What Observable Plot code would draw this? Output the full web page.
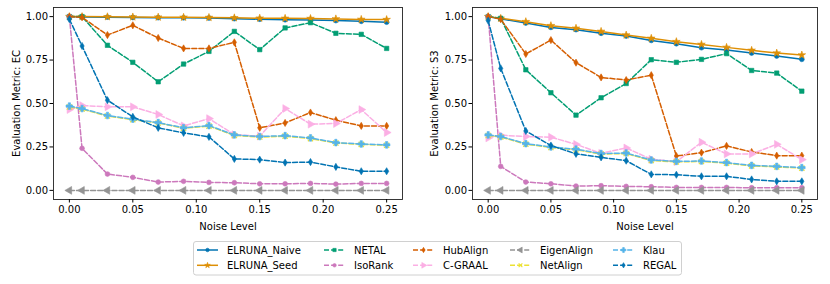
<!DOCTYPE html>
<html>
<head>
<meta charset="utf-8">
<script src="https://cdn.jsdelivr.net/npm/d3@7"></script>
<script src="https://cdn.jsdelivr.net/npm/@observablehq/plot@0.6"></script>
<style>
  body { margin: 0; background: #fff; }
  #wrap { position: relative; width: 830px; height: 284px; font-family: "DejaVu Sans", sans-serif; }
  .panel { position: absolute; top: 0; }
  #legend { position: absolute; left: 0; top: 0; }
</style>
</head>
<body>
<div id="wrap">
  <div id="left" class="panel" style="left:0px"></div>
  <div id="right" class="panel" style="left:415px"></div>
  <div id="legend"></div>
</div>
<script>
// ---------- data ----------
const noise = [0, 0.01, 0.03, 0.05, 0.07, 0.09, 0.11, 0.13, 0.15, 0.17, 0.19, 0.21, 0.23, 0.25];
const xTicks = [0, 0.05, 0.10, 0.15, 0.20, 0.25];
const yTicks = [0, 0.25, 0.5, 0.75, 1.0];
const seriesNames = ["ELRUNA_Naive", "ELRUNA_Seed", "NETAL", "IsoRank", "HubAlign", "C-GRAAL", "EigenAlign", "NetAlign", "Klau", "REGAL"];
const seriesColors = ["#0173b2", "#de8f05", "#029e73", "#cc78bc", "#d55e00", "#fbafe4", "#949494", "#ece133", "#56b4e9", "#0173b2"];

// EC
const ecElrunaNaive = [1.0, 0.998, 0.997, 0.995, 0.994, 0.993, 0.992, 0.988, 0.985, 0.982, 0.980, 0.977, 0.973, 0.968];
const ecElrunaSeed  = [1.0, 1.0, 0.999, 0.998, 0.997, 0.996, 0.995, 0.993, 0.991, 0.990, 0.989, 0.987, 0.984, 0.983];
const ecNetal       = [1.0, 1.0, 0.835, 0.737, 0.625, 0.727, 0.800, 0.915, 0.810, 0.935, 0.965, 0.904, 0.898, 0.817];
const ecIsoRank     = [1.0, 0.242, 0.094, 0.075, 0.048, 0.052, 0.046, 0.044, 0.038, 0.038, 0.040, 0.036, 0.040, 0.040];
const ecHubAlign    = [1.0, 0.996, 0.894, 0.950, 0.877, 0.817, 0.817, 0.852, 0.360, 0.388, 0.448, 0.404, 0.371, 0.371];
const ecCGraal      = [0.465, 0.488, 0.481, 0.481, 0.437, 0.371, 0.413, 0.321, 0.312, 0.471, 0.381, 0.385, 0.465, 0.333];
const ecEigenAlign  = [0, 0, 0, 0, 0, 0, 0, 0, 0, 0, 0, 0, 0, 0];
const ecNetAlign    = [0.480, 0.468, 0.428, 0.407, 0.388, 0.358, 0.370, 0.316, 0.307, 0.312, 0.298, 0.273, 0.265, 0.260];
const ecKlau        = [0.485, 0.471, 0.431, 0.410, 0.390, 0.360, 0.373, 0.319, 0.310, 0.315, 0.302, 0.275, 0.267, 0.262];
const ecRegal       = [0.985, 0.831, 0.519, 0.423, 0.360, 0.331, 0.308, 0.181, 0.177, 0.160, 0.163, 0.135, 0.110, 0.110];

// S3
const s3ElrunaNaive = [1.0, 0.987, 0.963, 0.938, 0.925, 0.904, 0.888, 0.863, 0.844, 0.821, 0.808, 0.790, 0.773, 0.754];
const s3ElrunaSeed  = [1.0, 0.990, 0.971, 0.948, 0.933, 0.915, 0.894, 0.875, 0.856, 0.840, 0.823, 0.806, 0.790, 0.779];
const s3Netal       = [1.0, 0.990, 0.694, 0.562, 0.433, 0.533, 0.615, 0.752, 0.737, 0.754, 0.787, 0.690, 0.675, 0.571];
const s3IsoRank     = [1.0, 0.138, 0.048, 0.038, 0.025, 0.027, 0.023, 0.021, 0.017, 0.017, 0.017, 0.015, 0.015, 0.015];
const s3HubAlign    = [1.0, 0.985, 0.785, 0.865, 0.735, 0.650, 0.635, 0.663, 0.198, 0.217, 0.256, 0.221, 0.200, 0.200];
const s3CGraal      = [0.302, 0.317, 0.310, 0.306, 0.265, 0.213, 0.244, 0.179, 0.165, 0.277, 0.210, 0.210, 0.265, 0.177];
const s3EigenAlign  = [0, 0, 0, 0, 0, 0, 0, 0, 0, 0, 0, 0, 0, 0];
const s3NetAlign    = [0.316, 0.307, 0.266, 0.247, 0.234, 0.209, 0.212, 0.172, 0.164, 0.166, 0.157, 0.141, 0.135, 0.128];
const s3Klau        = [0.319, 0.310, 0.269, 0.250, 0.237, 0.212, 0.215, 0.175, 0.167, 0.169, 0.160, 0.144, 0.138, 0.131];
const s3Regal       = [0.977, 0.702, 0.342, 0.258, 0.210, 0.190, 0.171, 0.092, 0.090, 0.081, 0.081, 0.063, 0.052, 0.052];

const ecValues = [ecElrunaNaive, ecElrunaSeed, ecNetal, ecIsoRank, ecHubAlign, ecCGraal, ecEigenAlign, ecNetAlign, ecKlau, ecRegal];
const s3Values = [s3ElrunaNaive, s3ElrunaSeed, s3Netal, s3IsoRank, s3HubAlign, s3CGraal, s3EigenAlign, s3NetAlign, s3Klau, s3Regal];

// ---------- styles ----------
const thinDiamond = {
  draw(ctx, size) {
    const r = Math.sqrt(size) / 2;
    ctx.moveTo(0, -r * 1.35);
    ctx.lineTo(r * 0.8, 0);
    ctx.lineTo(0, r * 1.35);
    ctx.lineTo(-r * 0.8, 0);
    ctx.closePath();
  }
};
const styles = [
  {symbol: "circle", rotate: 0, fill: true, r: 2.4, dash: false},
  {symbol: "star", rotate: 0, fill: true, r: 2.4, dash: false},
  {symbol: "square", rotate: 0, fill: true, r: 2.5, dash: true},
  {symbol: "circle", rotate: 0, fill: true, r: 2.4, dash: true},
  {symbol: thinDiamond, rotate: 0, fill: true, r: 3.0, dash: true},
  {symbol: "triangle", rotate: 90, fill: true, r: 2.9, dash: true},
  {symbol: "triangle", rotate: -90, fill: true, r: 2.9, dash: true},
  {symbol: "times", rotate: 0, fill: false, r: 2.5, dash: true},
  {symbol: "cross", rotate: 0, fill: true, r: 2.8, dash: true},
  {symbol: thinDiamond, rotate: 0, fill: true, r: 3.0, dash: true}
];

const font = "DejaVu Sans, sans-serif";

function panel(values, ylabel, marginLeft, frameWidth, labelOffset) {
  const marks = [];
  seriesNames.forEach((name, i) => {
    const data = noise.map((x, j) => ({x, y: values[i][j]}));
    const st = styles[i];
    marks.push(Plot.line(data, {
      x: "x", y: "y", stroke: seriesColors[i], strokeWidth: 1.5,
      strokeDasharray: st.dash ? "5,2.1" : null, strokeLinejoin: "round"
    }));
    marks.push(Plot.dot(data, {
      x: "x", y: "y", symbol: st.symbol, r: st.r, rotate: st.rotate,
      fill: st.fill ? seriesColors[i] : "none", stroke: seriesColors[i],
      strokeWidth: st.fill ? 0.6 : 1.2
    }));
  });
  marks.push(Plot.frame({stroke: "#222", strokeWidth: 0.9}));
  marks.push(Plot.axisX({ticks: xTicks, tickFormat: d3.format(".2f"), tickSize: 3.5, tickPadding: 3,
    label: "Noise Level", labelAnchor: "center", labelArrow: "none", labelOffset: 30}));
  marks.push(Plot.axisY({ticks: yTicks, tickFormat: d3.format(".2f"), tickSize: 3.5, tickPadding: 2,
    label: ylabel, labelAnchor: "center", labelArrow: "none", labelOffset: labelOffset}));
  return Plot.plot({
    width: 415, height: 232,
    marginLeft: marginLeft, marginRight: 415 - marginLeft - frameWidth,
    marginTop: 7, marginBottom: 33,
    style: {fontFamily: font, fontSize: "10px", background: "white", color: "#000"},
    x: {domain: [-0.0125, 0.2625]},
    y: {domain: [-0.0525, 1.0525]},
    marks
  });
}

document.getElementById("left").appendChild(panel(ecValues, "Evaluation Metric: EC", 53, 349, 41));
document.getElementById("right").appendChild(panel(s3Values, "Evaluation Metric: S3", 57, 345, 42));

// ---------- legend ----------
const legendCols = [197, 324, 413, 510, 613];
const legendRows = [250, 265.3];
const svg = d3.select("#legend").append("svg").attr("width", 830).attr("height", 284)
  .style("font-family", font).style("font-size", "10px");
svg.append("rect").attr("x", 193.5).attr("y", 241.5).attr("width", 488).attr("height", 33.5)
  .attr("rx", 2.5).attr("fill", "white").attr("stroke", "#d0d0d0").attr("stroke-width", 1);
const symbolMap = {circle: d3.symbolCircle, star: d3.symbolStar, square: d3.symbolSquare,
  triangle: d3.symbolTriangle, times: d3.symbolTimes, cross: d3.symbolCross};
seriesNames.forEach((name, i) => {
  const col = Math.floor(i / 2), row = i % 2;
  const x0 = legendCols[col], y0 = legendRows[row];
  const st = styles[i];
  const g = svg.append("g");
  g.append("line").attr("x1", x0).attr("x2", x0 + 21).attr("y1", y0).attr("y2", y0)
    .attr("stroke", seriesColors[i]).attr("stroke-width", 1.5)
    .attr("stroke-dasharray", st.dash ? "5,2.1" : null);
  const type = typeof st.symbol === "string" ? symbolMap[st.symbol] : st.symbol;
  const k = 0.55;
  g.append("path").attr("d", d3.symbol(type, Math.PI * st.r * st.r * k)())
    .attr("transform", `translate(${x0 + 10.5},${y0}) rotate(${st.rotate})`)
    .attr("fill", st.fill ? seriesColors[i] : "none").attr("stroke", seriesColors[i])
    .attr("stroke-width", st.fill ? 0.6 : 1.1);
  g.append("text").attr("x", x0 + 30).attr("y", y0).attr("dy", "0.35em").text(name);
});
</script>
</body>
</html>
